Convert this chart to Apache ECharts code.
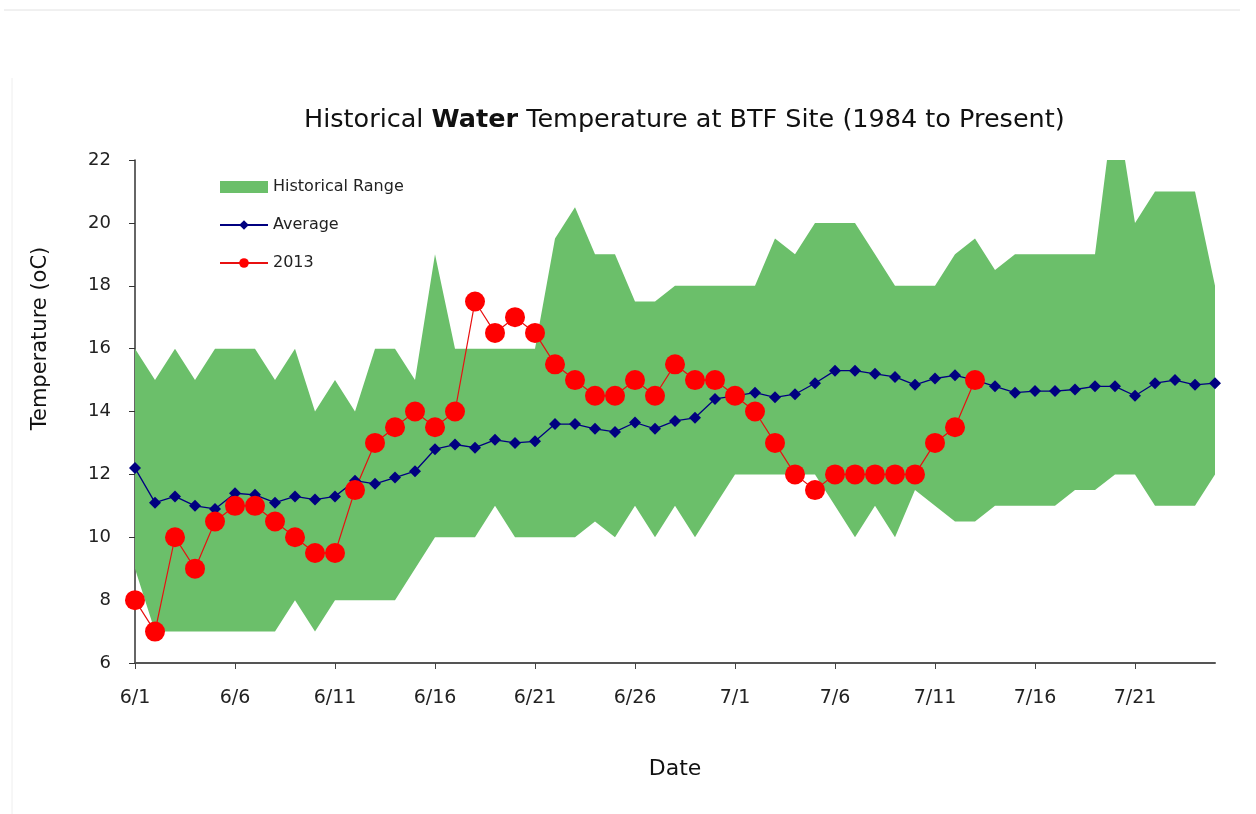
<!DOCTYPE html>
<html>
<head>
<meta charset="utf-8">
<title>Historical Water Temperature at BTF Site</title>
<script src="https://cdn.jsdelivr.net/npm/echarts@6/dist/echarts.min.js"></script>
<style>
  html, body { margin: 0; padding: 0; background: #fff; }
  #chart { width: 1256px; height: 814px; }
</style>
</head>
<body>
<div id="chart"></div>
<script>
// dates 6/1 .. 7/25
const dates = [
  '6/1', '6/2', '6/3', '6/4', '6/5', '6/6', '6/7', '6/8', '6/9', '6/10',
  '6/11', '6/12', '6/13', '6/14', '6/15', '6/16', '6/17', '6/18', '6/19', '6/20',
  '6/21', '6/22', '6/23', '6/24', '6/25', '6/26', '6/27', '6/28', '6/29', '6/30',
  '7/1', '7/2', '7/3', '7/4', '7/5', '7/6', '7/7', '7/8', '7/9', '7/10',
  '7/11', '7/12', '7/13', '7/14', '7/15', '7/16', '7/17', '7/18', '7/19', '7/20',
  '7/21', '7/22', '7/23', '7/24', '7/25'
]

// historical range (min / max)
const histMin = [
  9, 7, 7, 7, 7, 7, 7, 7, 8, 7,
  8, 8, 8, 8, 9, 10, 10, 10, 11, 10,
  10, 10, 10, 10.5, 10, 11, 10, 11, 10, 11,
  12, 12, 12, 12, 12, 11, 10, 11, 10, 11.5,
  11, 10.5, 10.5, 11, 11, 11, 11, 11.5, 11.5, 12,
  12, 11, 11, 11, 12
]
const histMax = [
  16, 15, 16, 15, 16, 16, 16, 15, 16, 14,
  15, 14, 16, 16, 15, 19, 16, 16, 16, 16,
  16, 19.5, 20.5, 19, 19, 17.5, 17.5, 18, 18, 18,
  18, 18, 19.5, 19, 20, 20, 20, 19, 18, 18,
  18, 19, 19.5, 18.5, 19, 19, 19, 19, 19, 24,
  20, 21, 21, 21, 18
]

// long-term average
const average = [
  12.2, 11.1, 11.3, 11.0, 10.9, 11.4, 11.35, 11.1, 11.3, 11.2,
  11.3, 11.8, 11.7, 11.9, 12.1, 12.8, 12.95, 12.85, 13.1, 13.0,
  13.05, 13.6, 13.6, 13.45, 13.35, 13.65, 13.45, 13.7, 13.8, 14.4,
  14.5, 14.6, 14.45, 14.55, 14.9, 15.3, 15.3, 15.2, 15.1, 14.85,
  15.05, 15.15, 15.0, 14.8, 14.6, 14.65, 14.65, 14.7, 14.8, 14.8,
  14.5, 14.9, 15.0, 14.85, 14.9
]

// 2013 readings (through 7/13)
const y2013 = [
  8, 7, 10, 9, 10.5, 11, 11, 10.5, 10, 9.5,
  9.5, 11.5, 13, 13.5, 14, 13.5, 14, 17.5, 16.5, 17,
  16.5, 15.5, 15, 14.5, 14.5, 15, 14.5, 15.5, 15, 15,
  14.5, 14, 13, 12, 11.5, 12, 12, 12, 12, 12,
  13, 13.5, 15
]

const FONT = 'DejaVu Sans'
const GREEN = '#6bbf6a'

// band height on top of the min line
const rangeSpan = histMax.map((v, i) => v - histMin[i])

const chart = echarts.init(document.getElementById('chart'), null, { renderer: 'canvas' })

const option = {
  backgroundColor: '#fff',
  animation: false,
  title: {
    text: '{a|Historical }{b|Water}{a| Temperature at BTF Site (1984 to Present)}',
    left: 299,
    top: 102,
    textStyle: {
      fontWeight: 'normal',
      rich: {
        a: { fontFamily: FONT, fontSize: 25.5, fontWeight: 'normal', color: '#111' },
        b: { fontFamily: FONT, fontSize: 25.5, fontWeight: 'bold', color: '#111' }
      }
    }
  },
  legend: {
    orient: 'vertical',
    left: 214,
    top: 174,
    itemWidth: 48,
    itemHeight: 12,
    itemGap: 22,
    textStyle: { fontFamily: FONT, fontSize: 16, color: '#222' },
    data: [
      { name: 'Historical Range', icon: 'rect' },
      { name: 'Average' },
      { name: '2013' }
    ]
  },
  graphic: [
    { type: 'line', shape: { x1: 4, y1: 10, x2: 1240, y2: 10 }, style: { stroke: '#e2e2e2', lineWidth: 1 } },
    { type: 'line', shape: { x1: 12, y1: 78, x2: 12, y2: 814 }, style: { stroke: '#eeeeee', lineWidth: 1 } }
  ],
  grid: { left: 135, right: 41, top: 160, bottom: 151 },
  xAxis: {
    type: 'category',
    data: dates,
    boundaryGap: false,
    name: 'Date',
    nameLocation: 'middle',
    nameGap: 95,
    nameTextStyle: { fontFamily: FONT, fontSize: 22, color: '#111' },
    axisLine: { lineStyle: { color: '#555', width: 2 } },
    axisTick: { interval: 4, length: 6, lineStyle: { color: '#444' } },
    axisLabel: { interval: 4, margin: 26, fontFamily: FONT, fontSize: 19, color: '#222' },
    splitLine: { show: false }
  },
  yAxis: {
    type: 'value',
    min: 6,
    max: 22,
    interval: 2,
    name: 'Temperature (oC)',
    nameLocation: 'middle',
    nameGap: 84,
    nameTextStyle: { fontFamily: FONT, fontSize: 21, color: '#111', padding: [0, 0, 0, 146] },
    axisLine: { show: true, lineStyle: { color: '#333', width: 1.5 } },
    axisTick: { show: true, length: 6, lineStyle: { color: '#333' } },
    axisLabel: { margin: 24, fontFamily: FONT, fontSize: 18, color: '#222' },
    splitLine: { show: false }
  },
  series: [
    {
      name: 'rangeBase',
      type: 'line',
      stack: 'range',
      data: histMin,
      symbol: 'none',
      lineStyle: { width: 0, opacity: 0 },
      silent: true
    },
    {
      name: 'Historical Range',
      type: 'line',
      stack: 'range',
      data: rangeSpan,
      symbol: 'none',
      color: GREEN,
      lineStyle: { width: 0, color: GREEN },
      itemStyle: { color: GREEN },
      areaStyle: { color: GREEN, opacity: 1 },
      clip: true
    },
    {
      name: 'Average',
      type: 'line',
      data: average,
      symbol: 'diamond',
      symbolSize: 12,
      showAllSymbol: true,
      color: '#000080',
      lineStyle: { color: '#000080', width: 1.3 },
      itemStyle: { color: '#000080' }
    },
    {
      name: '2013',
      type: 'line',
      data: y2013,
      symbol: 'circle',
      symbolSize: 20,
      showAllSymbol: true,
      color: '#ff0000',
      lineStyle: { color: '#e81010', width: 1.2 },
      itemStyle: { color: '#ff0000' }
    }
  ]
}

chart.setOption(option)
</script>
</body>
</html>
